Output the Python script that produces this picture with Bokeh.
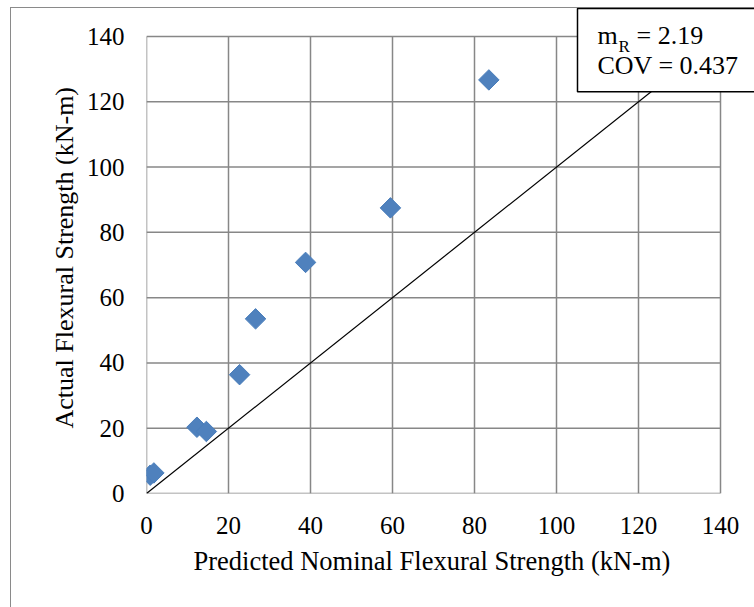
import math
from bokeh.plotting import figure
from bokeh.models import FixedTicker, Label, Range1d, Title
from bokeh.embed import file_html
from bokeh.resources import INLINE

# ---- data ----
predicted = [0.9, 1.8, 12.3, 14.6, 22.7, 26.6, 38.8, 59.5, 83.5]
actual = [5.6, 6.3, 20.3, 19.0, 36.4, 53.5, 70.8, 87.5, 126.7]
ticks = [0, 20, 40, 60, 80, 100, 120, 140]
axis_min, axis_max = 0, 140
line_x = [0, 140]
line_y = [0, 140]
x_title = "Predicted Nominal Flexural Strength (kN-m)"
y_title = "Actual Flexural Strength (kN-m)"
m_r_text = "2.19"
cov_text = "0.437"

W, H = 754, 607
# plot area (page px): x 0 -> 146, x 140 -> 720 ; y 0 -> 493, y 140 -> 36
X0, X1, Y0, Y1 = 146, 720, 493, 36
TOP = 7  # frame is extended up to the outer border so the box is not clipped
BL, BR, BT, BB = X0, 0, TOP, H - Y0
x_end = axis_max * (W - X0) / (X1 - X0)
y_end = axis_max * (Y0 - TOP) / (Y0 - Y1)

p = figure(width=W, height=H, output_backend="svg", toolbar_location=None,
           x_range=Range1d(axis_min, x_end), y_range=Range1d(axis_min, y_end),
           min_border_left=BL, min_border_right=BR,
           min_border_top=BT, min_border_bottom=BB)
p.border_fill_color = None
p.background_fill_color = None
p.outline_line_color = None
p.styles = {
    "background": "linear-gradient(#8a8a8a,#8a8a8a) 10px 7px / 1px 100% no-repeat, "
                  "linear-gradient(#8a8a8a,#8a8a8a) 10px 7px / 100% 1px no-repeat, white"
}

GRID = "#878787"
p.xgrid.visible = False
p.ygrid.visible = False
# gridlines drawn over the 0..140 square
p.segment(x0=ticks, y0=[axis_min] * len(ticks), x1=ticks, y1=[axis_max] * len(ticks),
          line_color=GRID, line_width=1.5)
p.segment(x0=[axis_min] * len(ticks), y0=ticks, x1=[axis_max] * len(ticks), y1=ticks,
          line_color=GRID, line_width=1.5)

FONT = "'Liberation Serif', 'Times New Roman', serif"
for ax in (p.xaxis, p.yaxis):
    ax.ticker = FixedTicker(ticks=ticks)
    ax.bounds = (axis_min, axis_max)
    ax.axis_line_color = None
    ax.major_tick_line_color = None
    ax.minor_tick_line_color = None
    ax.major_tick_out = 0
    ax.major_tick_in = 0
    ax.major_label_text_font = FONT
    ax.major_label_text_font_size = "25px"
    ax.major_label_text_color = "black"
p.xaxis.major_label_standoff = 23
p.yaxis.major_label_standoff = 22

# axis titles as Titles so they can be placed along the 0..140 square
xt = Title(text=x_title, align="left", offset=47,
           standoff=14, text_font=FONT, text_font_size="26.5px",
           text_font_style="normal", text_color="black")
p.add_layout(xt, "below")
yt = Title(text=y_title, align="left", offset=65,
           standoff=10, text_font=FONT, text_font_size="26px",
           text_font_style="normal", text_color="black")
p.add_layout(yt, "left")

p.line(line_x, line_y, line_color="black", line_width=1.2)
p.scatter(predicted, actual, marker="square", size=14.5, angle=math.pi / 4,
          fill_color="#4F81BD", line_color="#4A7EBB", line_width=1)


# annotation box (screen units relative to the frame's bottom-left corner)
def sx(px):
    return px - BL


def sy(py):
    return Y0 - py


box = Label(x=sx(577), y=sy(8), x_units="screen", y_units="screen",
            text="m\nCOV = " + cov_text, text_align="left",
            text_baseline="top", text_font=FONT, text_font_size="26px",
            text_color="black", text_line_height=1.04,
            background_fill_color="white", border_line_color="black",
            border_line_width=1.5, padding=(20, 12))
p.add_layout(box)

sub = Label(x=sx(618), y=sy(36), x_units="screen", y_units="screen", text="R",
            text_align="left", text_baseline="top", text_font=FONT,
            text_font_size="17px", text_color="black")
p.add_layout(sub)
eq = Label(x=sx(636), y=sy(20), x_units="screen", y_units="screen",
           text="= " + m_r_text,
           text_align="left", text_baseline="top", text_font=FONT,
           text_font_size="26px", text_color="black")
p.add_layout(eq)

open("out.html", "w").write(file_html(p, INLINE))
